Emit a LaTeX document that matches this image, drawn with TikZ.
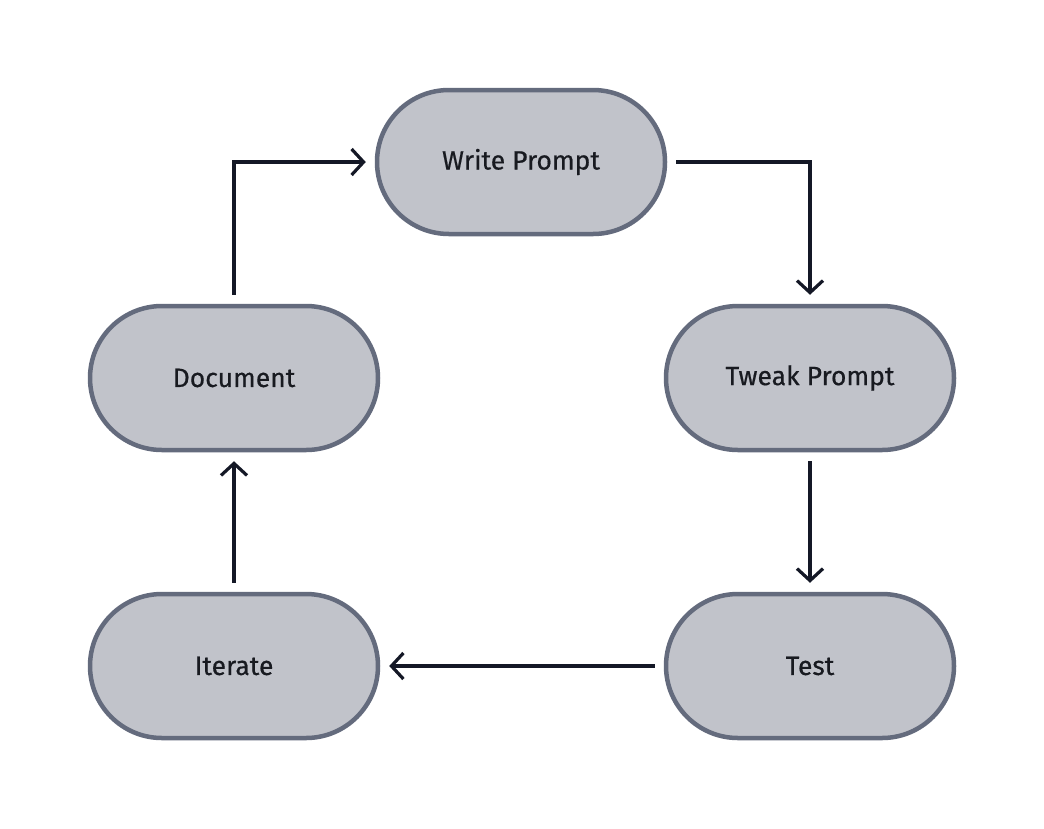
\documentclass[tikz,border=0pt]{standalone}
\usepackage{fontspec}
\setmainfont{Fira Sans}
\newfontfamily\medfont{Fira Sans}[UprightFeatures={FakeBold=0.5}]
\usetikzlibrary{arrows.meta}
\definecolor{nodefill}{HTML}{C1C3CA}
\definecolor{nodeline}{HTML}{646B7D}
\definecolor{arrowcol}{HTML}{141826}
\definecolor{textcol}{HTML}{181A20}
\tikzset{
  stadium/.style={draw=nodeline, fill=nodefill, line width=4.5pt,
    minimum width=288pt, minimum height=144pt, rounded corners=72pt,
    inner sep=0pt, font=\medfont\fontsize{26.5}{30}\selectfont, text=textcol},
  flow/.style={draw=arrowcol, line width=3.2pt,
    -{Straight Barb[length=12pt, width=26pt, line width=3.2pt]},
    shorten >=9pt, shorten <=9pt}
}
\begin{document}
\begin{tikzpicture}[x=1pt,y=-1pt]
\path[use as bounding box, fill=white] (0,0) rectangle (1044,828);
\node[stadium] (write) at (521,162) {Write Prompt};
\node[stadium] (doc) at (234,378) {Document};
\node[stadium] (tweak) at (810,378) {Tweak Prompt};
\node[stadium] (iter) at (234,666) {Iterate};
\node[stadium] (test) at (810,666) {Test};
\draw[flow] (doc.north) |- (write.west);
\draw[flow] (write.east) -| (tweak.north);
\draw[flow] (tweak.south) -- (test.north);
\draw[flow] (test.west) -- (iter.east);
\draw[flow] (iter.north) -- (doc.south);
\end{tikzpicture}
\end{document}
